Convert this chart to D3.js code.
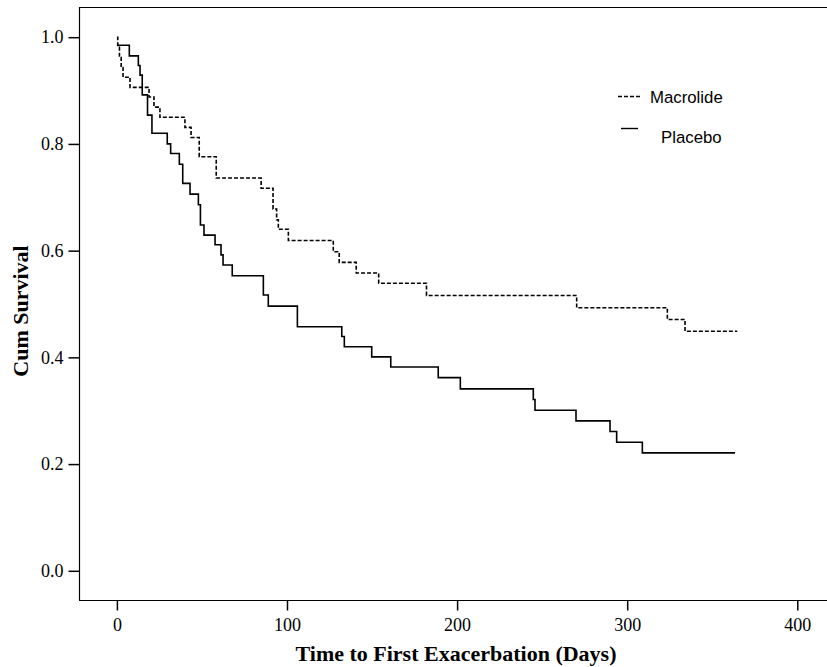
<!DOCTYPE html>
<html><head><meta charset="utf-8">
<script src="https://cdn.jsdelivr.net/npm/d3@7"></script>
<style>body{margin:0;background:#fff}svg{display:block}</style>
</head><body>
<svg id="c" width="827" height="667"></svg>
<script>
// Macrolide (dashed) – Kaplan-Meier steps: day of event, survival after event
const macrolideDays = [0, 0.5, 1.5, 2.5, 3.6, 7.7, 18.9, 21.8, 25.3, 40.0, 43.6, 48.4, 58.4, 84.8, 91.8, 93.9, 94.9, 100.8, 127.2, 130.7, 140.7, 153.9, 182.0, 270.3, 323.6, 334.0, 364.7];
const macrolideSurv = [1.0, 0.981, 0.962, 0.943, 0.925, 0.906, 0.888, 0.869, 0.850, 0.831, 0.812, 0.776, 0.736, 0.717, 0.678, 0.658, 0.640, 0.619, 0.598, 0.578, 0.558, 0.539, 0.516, 0.493, 0.471, 0.449, 0.449];
// Placebo (solid)
const placeboDays = [0, 7.3, 12.6, 13.6, 14.9, 18.0, 20.6, 29.6, 31.6, 36.7, 38.7, 43.0, 47.9, 49.1, 51.2, 57.7, 61.2, 62.4, 67.8, 86.1, 89.0, 106.1, 132.2, 133.7, 149.8, 161.0, 188.9, 201.9, 244.8, 245.8, 269.9, 289.9, 293.8, 308.9, 363.4];
const placeboSurv = [0.985, 0.965, 0.947, 0.929, 0.892, 0.854, 0.820, 0.800, 0.782, 0.762, 0.726, 0.706, 0.686, 0.648, 0.629, 0.611, 0.592, 0.573, 0.553, 0.517, 0.496, 0.4575, 0.439, 0.420, 0.401, 0.382, 0.362, 0.341, 0.321, 0.301, 0.281, 0.261, 0.241, 0.221, 0.221];
const xTicks = [0, 100, 200, 300, 400];
const yTicks = [0.0, 0.2, 0.4, 0.6, 0.8, 1.0];
const seriesNames = ["Macrolide", "Placebo"];

const svg = d3.select("#c");
const L = 79, T = 7, B = 600, R = 827;
const x = d3.scaleLinear().domain([0, 400]).range([116.9, 797.3]);
const y = d3.scaleLinear().domain([0, 1]).range([570.8, 37.2]);

// frame
svg.append("line").attr("x1", L).attr("x2", R).attr("y1", T + 0.5).attr("y2", T + 0.5).attr("stroke", "#000").attr("stroke-width", 1.2);
svg.append("line").attr("x1", L).attr("x2", R).attr("y1", B + 0.5).attr("y2", B + 0.5).attr("stroke", "#000").attr("stroke-width", 1.2);

const yAxis = svg.append("g").attr("transform", `translate(${L + 0.5},0)`)
  .call(d3.axisLeft(y).tickValues(yTicks).tickFormat(d3.format(".1f")).tickSize(11).tickPadding(5));
yAxis.select(".domain").attr("d", `M0,${T}V${B}`).attr("stroke-width", 1.2);
const xAxis = svg.append("g").attr("transform", `translate(0,${B + 0.5})`)
  .call(d3.axisBottom(x).tickValues(xTicks).tickFormat(d3.format("d")).tickSize(10).tickPadding(8));
xAxis.select(".domain").remove();
svg.selectAll(".tick line").attr("stroke-width", 1.5);
svg.selectAll(".tick text").attr("font-family", "'Liberation Serif', 'Times New Roman', serif").attr("font-size", 18).attr("fill", "#000");

// titles
svg.append("text").attr("x", 456).attr("y", 661).attr("text-anchor", "middle")
  .attr("font-family", "'Liberation Serif', serif").attr("font-weight", "bold").attr("font-size", 22)
  .text("Time to First Exacerbation (Days)");
svg.append("text").attr("transform", "translate(28,311) rotate(-90)").attr("text-anchor", "middle")
  .attr("font-family", "'Liberation Serif', serif").attr("font-weight", "bold").attr("font-size", 22)
  .text("Cum Survival");

const line = d3.line().curve(d3.curveStepAfter).x(d => x(d[0])).y(d => y(d[1]));
const mac = macrolideDays.map((d, i) => [d, macrolideSurv[i]]);
const pla = placeboDays.map((d, i) => [d, placeboSurv[i]]);
svg.append("path").datum(mac).attr("d", line).attr("fill", "none").attr("stroke", "#000")
  .attr("stroke-width", 1.6).attr("stroke-dasharray", "4,2");
svg.append("path").datum(pla).attr("d", line).attr("fill", "none").attr("stroke", "#000")
  .attr("stroke-width", 1.6);

// legend
const lg = svg.append("g");
lg.append("line").attr("x1", 618).attr("x2", 640).attr("y1", 96.5).attr("y2", 96.5)
  .attr("stroke", "#000").attr("stroke-width", 1.4).attr("stroke-dasharray", "4,2");
lg.append("text").attr("x", 650).attr("y", 102.5).attr("font-family", "'Liberation Sans', Arial, sans-serif")
  .attr("font-size", 16.8).text(seriesNames[0]);
lg.append("line").attr("x1", 621).attr("x2", 638).attr("y1", 128.5).attr("y2", 128.5)
  .attr("stroke", "#000").attr("stroke-width", 1.4);
lg.append("text").attr("x", 661).attr("y", 142.5).attr("font-family", "'Liberation Sans', Arial, sans-serif")
  .attr("font-size", 16.8).text(seriesNames[1]);
</script>
</body></html>
